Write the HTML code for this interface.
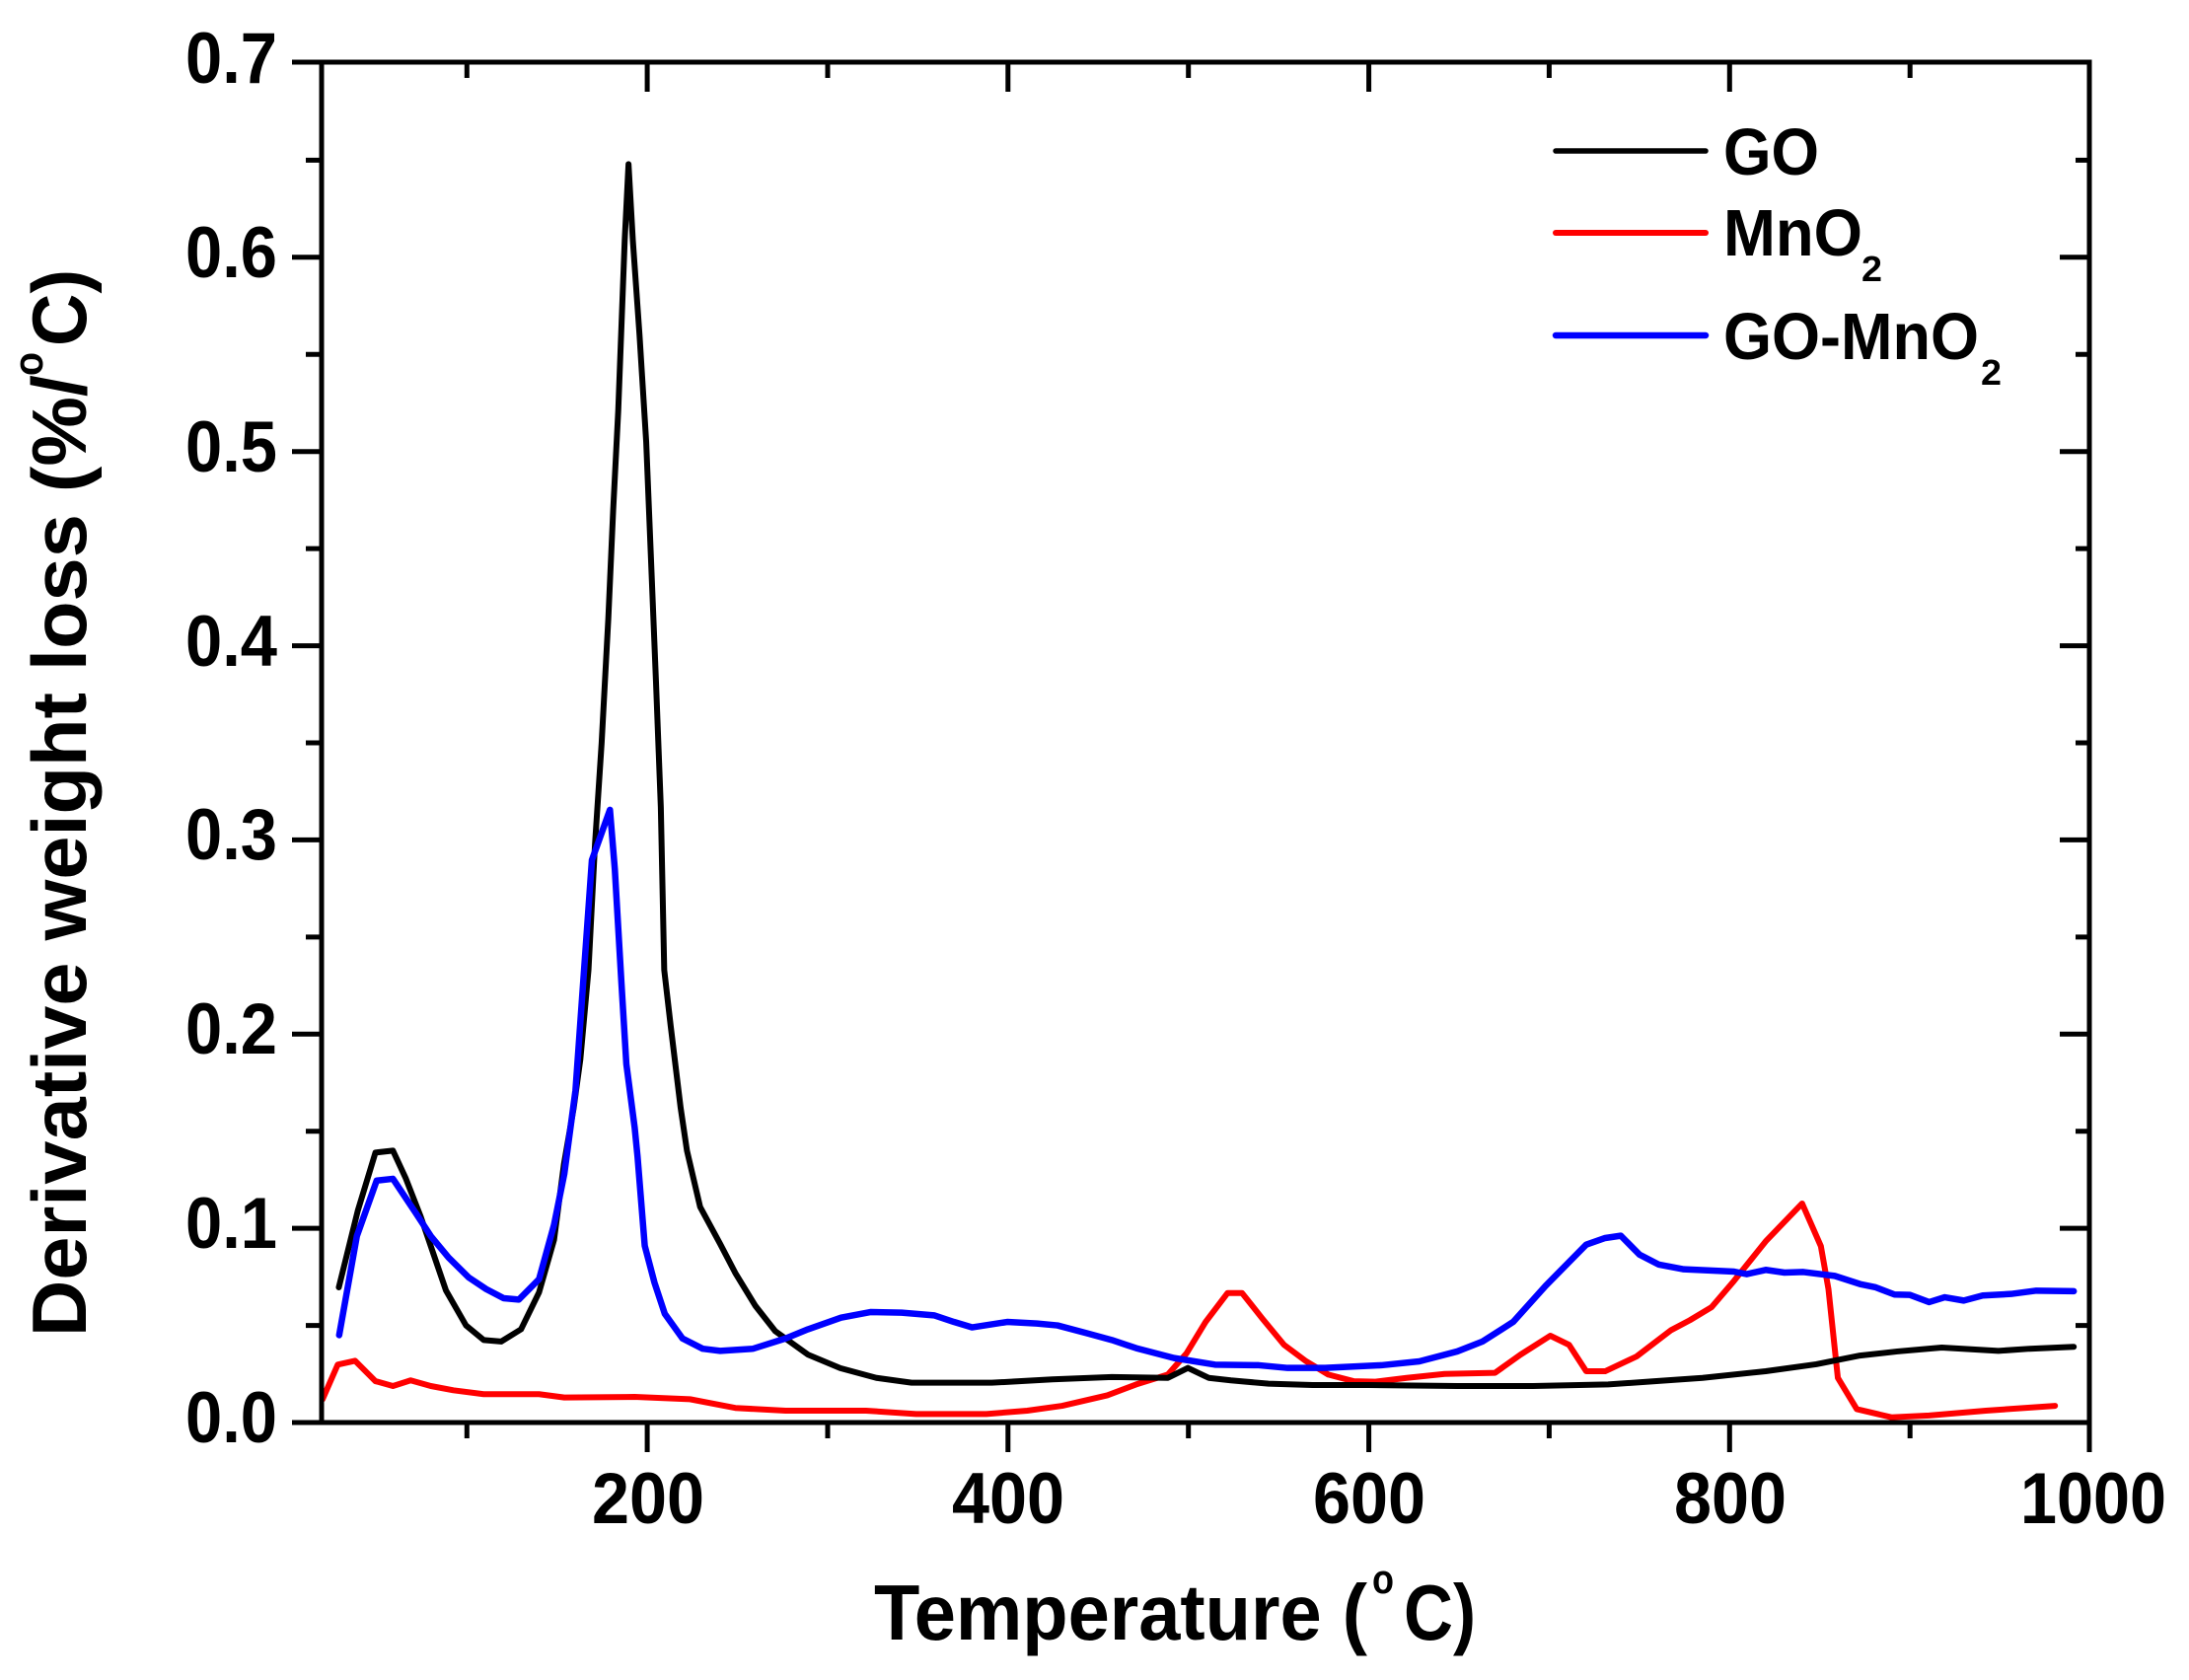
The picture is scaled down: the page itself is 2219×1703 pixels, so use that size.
<!DOCTYPE html>
<html>
<head>
<meta charset="utf-8">
<style>
html,body{margin:0;padding:0;background:#fff;}
svg{display:block;}
text{font-family:"Liberation Sans",Arial,sans-serif;font-weight:bold;fill:#000;}
</style>
</head>
<body>
<svg width="2219" height="1703" viewBox="0 0 2219 1703" xmlns="http://www.w3.org/2000/svg">
<rect x="0" y="0" width="2219" height="1703" fill="#fff"/>
<g transform="translate(290.43,1442) scale(1.8286,-1968.6)" fill="none" stroke-linejoin="round" stroke-linecap="round">
<polyline vector-effect="non-scaling-stroke" stroke="#ff0000" stroke-width="6" points="20,0.012 28.4,0.0298 38,0.0318 49.3,0.0213 59,0.0188 68.8,0.0217 80,0.0188 92.5,0.0166 109.3,0.0146 140,0.0146 154,0.0129 193,0.0132 223.7,0.012 248.8,0.0075 276.7,0.0061 321.3,0.0061 349,0.0044 388,0.0044 410.6,0.0061 430,0.0086 455,0.014 471,0.0196 488.6,0.0247 499,0.0357 509.5,0.0518 521.7,0.0667 529.7,0.0667 541,0.0535 553,0.040 565.3,0.0315 577.5,0.0247 591.5,0.0213 603.7,0.021 621,0.023 642,0.025 670,0.0256 684,0.0349 700.6,0.0447 711,0.040 720.5,0.0264 731,0.0264 748.4,0.034 767.6,0.0476 778,0.0527 790,0.0594 802.5,0.073 820,0.0933 840.2,0.1128 850.6,0.0908 854.8,0.0687 860,0.023 870.5,0.0069 889.7,0.0027 910.6,0.0036 942,0.0061 980.4,0.0086"/>
<polyline vector-effect="non-scaling-stroke" stroke="#000000" stroke-width="6" points="29,0.0696 39.5,0.109 49.3,0.139 59,0.140 66,0.126 74.4,0.106 81.4,0.087 88.4,0.068 99.5,0.050 109.3,0.0425 119,0.0417 130,0.048 140,0.067 148.3,0.094 153.8,0.133 159.2,0.162 162.9,0.187 167.4,0.233 171,0.2975 174.7,0.350 178.4,0.414 181.1,0.470 183.9,0.521 187.5,0.609 189.6,0.648 192,0.6087 195.7,0.560 199.4,0.505 202,0.446 204.8,0.382 207.5,0.317 209.4,0.233 213,0.204 218.5,0.162 222,0.140 229.3,0.111 240.4,0.092 248.8,0.077 260,0.060 271,0.047 289,0.035 307,0.028 327,0.023 346.5,0.0205 391,0.0205 424.6,0.0222 457.5,0.0234 488.6,0.023 499.7,0.0281 511.2,0.023 523.5,0.0217 544.4,0.020 568.8,0.0193 600,0.0193 649,0.0188 691,0.0188 732.7,0.0196 785,0.023 820,0.0264 848,0.030 872.3,0.0345 893,0.0366 917.6,0.0386 949,0.0369 966.4,0.038 990.8,0.039"/>
<polyline vector-effect="non-scaling-stroke" stroke="#0000ff" stroke-width="6.5" points="29.2,0.045 39,0.096 50,0.1246 59,0.1255 71.6,0.108 80,0.096 89.8,0.085 101,0.0747 110.7,0.0687 120.4,0.064 128.8,0.0633 140,0.0738 148.3,0.1018 154,0.128 160.2,0.171 169.3,0.2896 179.3,0.3155 182,0.285 185.7,0.226 188.4,0.1846 193,0.152 194.6,0.137 198.6,0.091 204,0.072 209.7,0.056 219.5,0.0433 230.7,0.038 240.4,0.0369 258.6,0.038 276.7,0.0433 289,0.048 307.4,0.054 324,0.0569 341,0.0566 359,0.0552 370,0.0518 380,0.049 399.5,0.0518 416,0.051 427.4,0.050 444,0.0459 457.5,0.0425 471,0.0383 492,0.0332 514.7,0.0298 539,0.0295 555,0.0281 575.8,0.0281 607,0.0295 628,0.0315 649,0.0366 663,0.0417 680,0.0518 698,0.0704 720.5,0.0916 731,0.095 739.7,0.0962 750,0.0865 760.6,0.0814 774.6,0.0789 802.5,0.0777 809.5,0.0764 820,0.0786 830.4,0.0772 840.9,0.0775 858.3,0.0755 872.3,0.0713 881,0.0696 891.4,0.0659 900,0.0657 910.6,0.062 919.3,0.0645 929.8,0.0628 940.3,0.0654 956,0.0662 970,0.0679 990.8,0.0676"/>
</g>
<rect x="326" y="63" width="1792" height="1379" fill="none" stroke="#000" stroke-width="5"/>
<g stroke="#000" stroke-width="5" stroke-linecap="butt">
<path d="M656.1 1442V1472M1021.8 1442V1472M1387.6 1442V1472M1753.3 1442V1472M2118 1442V1472"/>
<path d="M473.3 1442V1458M839 1442V1458M1204.7 1442V1458M1570.4 1442V1458M1936.2 1442V1458"/>
<path d="M656.1 63V93M1021.8 63V93M1387.6 63V93M1753.3 63V93"/>
<path d="M473.3 63V79M839 63V79M1204.7 63V79M1570.4 63V79M1936.2 63V79"/>
<path d="M296 1442H326M296 1245.1H326M296 1048.3H326M296 851.4H326M296 654.6H326M296 457.7H326M296 260.8H326M296 63H326"/>
<path d="M310 1343.6H326M310 1146.7H326M310 949.9H326M310 753H326M310 556.1H326M310 359.3H326M310 162.4H326"/>
<path d="M2088 1245.1H2118M2088 1048.3H2118M2088 851.4H2118M2088 654.6H2118M2088 457.7H2118M2088 260.8H2118"/>
<path d="M2104 1343.6H2118M2104 1146.7H2118M2104 949.9H2118M2104 753H2118M2104 556.1H2118M2104 359.3H2118M2104 162.4H2118"/>
</g>
<g font-size="73" text-anchor="end">
<text x="281" y="1462" textLength="93" lengthAdjust="spacingAndGlyphs">0.0</text>
<text x="281" y="1265" textLength="93" lengthAdjust="spacingAndGlyphs">0.1</text>
<text x="281" y="1068" textLength="93" lengthAdjust="spacingAndGlyphs">0.2</text>
<text x="281" y="871" textLength="93" lengthAdjust="spacingAndGlyphs">0.3</text>
<text x="281" y="675" textLength="93" lengthAdjust="spacingAndGlyphs">0.4</text>
<text x="281" y="478" textLength="93" lengthAdjust="spacingAndGlyphs">0.5</text>
<text x="281" y="281" textLength="93" lengthAdjust="spacingAndGlyphs">0.6</text>
<text x="281" y="84" textLength="93" lengthAdjust="spacingAndGlyphs">0.7</text>
</g>
<g font-size="73" text-anchor="middle">
<text x="657" y="1544" textLength="114" lengthAdjust="spacingAndGlyphs">200</text>
<text x="1022" y="1544" textLength="114" lengthAdjust="spacingAndGlyphs">400</text>
<text x="1388" y="1544" textLength="114" lengthAdjust="spacingAndGlyphs">600</text>
<text x="1754" y="1544" textLength="114" lengthAdjust="spacingAndGlyphs">800</text>
<text x="2122" y="1544" textLength="148" lengthAdjust="spacingAndGlyphs">1000</text>
</g>
<text x="886" y="1662" font-size="80" textLength="500" lengthAdjust="spacingAndGlyphs">Temperature (</text>
<text x="1391" y="1615" font-size="42" textLength="22" lengthAdjust="spacingAndGlyphs">o</text>
<text x="1423" y="1662" font-size="80" textLength="73" lengthAdjust="spacingAndGlyphs">C)</text>
<g transform="translate(87,1355) rotate(-90)">
<text x="0" y="0" font-size="78" textLength="975" lengthAdjust="spacingAndGlyphs">Derivative weight loss (%/</text>
<text x="974" y="-44" font-size="42" textLength="24" lengthAdjust="spacingAndGlyphs">o</text>
<text x="1004" y="0" font-size="78" textLength="78" lengthAdjust="spacingAndGlyphs">C)</text>
</g>
<g stroke-linecap="round">
<line x1="1577" y1="153" x2="1729" y2="153" stroke="#000" stroke-width="5.5"/>
<line x1="1577" y1="236" x2="1729" y2="236" stroke="#ff0000" stroke-width="6"/>
<line x1="1577" y1="340" x2="1729" y2="340" stroke="#0000ff" stroke-width="6.5"/>
</g>
<text x="1747" y="177" font-size="67" textLength="97" lengthAdjust="spacingAndGlyphs">GO</text>
<text x="1747" y="259" font-size="67" textLength="141" lengthAdjust="spacingAndGlyphs">MnO</text>
<text x="1887" y="285" font-size="36" textLength="21" lengthAdjust="spacingAndGlyphs">2</text>
<text x="1747" y="364" font-size="67" textLength="259" lengthAdjust="spacingAndGlyphs">GO-MnO</text>
<text x="2008" y="390" font-size="36" textLength="21" lengthAdjust="spacingAndGlyphs">2</text>
</svg>
</body>
</html>
